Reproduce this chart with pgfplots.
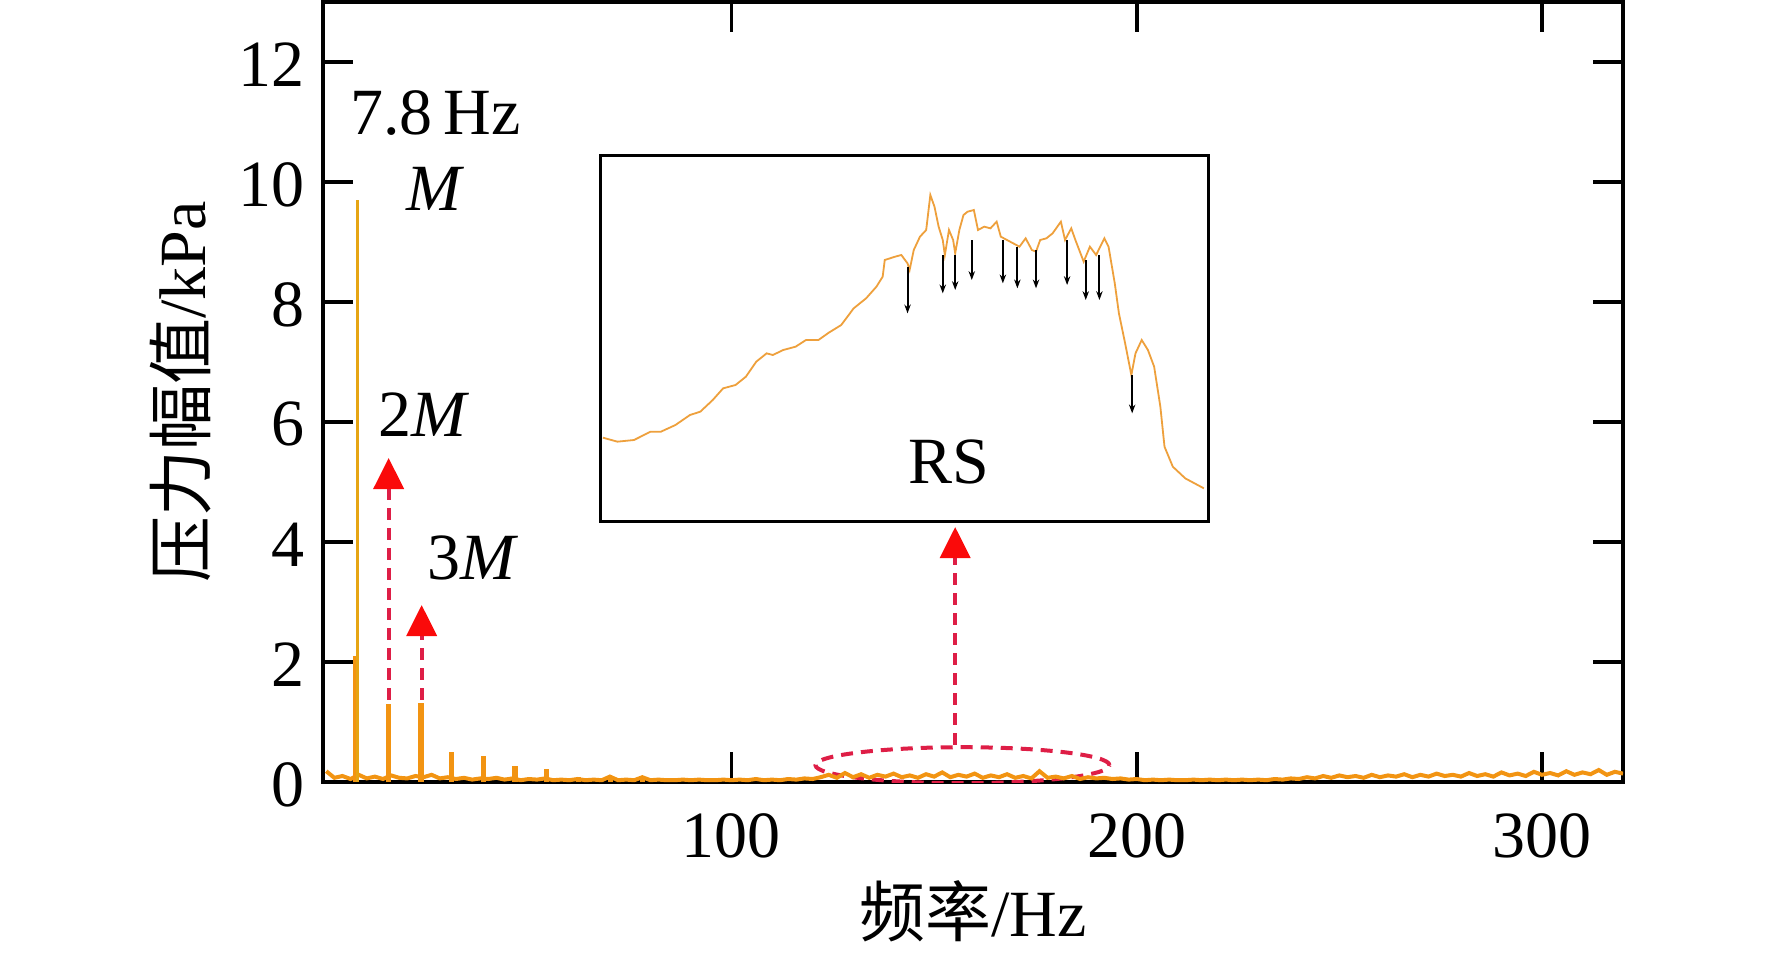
\documentclass[border=0pt]{standalone}
\usepackage{pgfplots}
\pgfplotsset{compat=1.18}
\usetikzlibrary{arrows.meta}
\usepackage{fontspec}
\setmainfont{Liberation Serif}
\newfontfamily\cjk{Noto Sans CJK SC}
\definecolor{spec}{RGB}{242,148,18}
\definecolor{specy}{RGB}{230,165,20}
\definecolor{dashred}{RGB}{222,30,70}
\definecolor{tri}{RGB}{250,10,10}
\definecolor{insetc}{RGB}{238,160,60}
\pgfplotstableread{
x y
0 0.18
2 0.07
4 0.10
6 0.05
8 0.12
10 0.06
12 0.09
14 0.05
16 0.11
18 0.07
20 0.06
22 0.10
24 0.08
26 0.12
28 0.06
30 0.08
32 0.05
34 0.07
36 0.04
38 0.06
40 0.05
42 0.07
44 0.04
46 0.06
48 0.03
50 0.05
52 0.04
54 0.06
56 0.03
58 0.04
60 0.03
62 0.05
64 0.03
66 0.04
68 0.03
70 0.09
72 0.03
74 0.04
76 0.03
78 0.08
80 0.03
82 0.04
84 0.03
86 0.03
88 0.04
90 0.03
92 0.04
94 0.03
96 0.03
98 0.04
100 0.03
102 0.04
104 0.03
106 0.05
108 0.03
110 0.04
112 0.03
114 0.05
116 0.04
118 0.06
120 0.05
122 0.08
124 0.12
126 0.07
128 0.15
130 0.08
132 0.13
134 0.07
136 0.12
138 0.09
140 0.14
142 0.08
144 0.11
146 0.07
148 0.13
150 0.09
152 0.16
154 0.08
156 0.12
158 0.09
160 0.14
162 0.07
164 0.11
166 0.08
168 0.13
170 0.07
172 0.10
174 0.06
176 0.18
178 0.07
180 0.09
182 0.06
184 0.10
186 0.05
188 0.08
190 0.06
192 0.07
194 0.05
196 0.06
198 0.04
200 0.05
202 0.03
204 0.04
206 0.03
208 0.04
210 0.03
212 0.03
214 0.04
216 0.03
218 0.04
220 0.03
222 0.04
224 0.03
226 0.04
228 0.03
230 0.04
232 0.03
234 0.05
236 0.04
238 0.06
240 0.05
242 0.08
244 0.06
246 0.10
248 0.07
250 0.11
252 0.08
254 0.10
256 0.07
258 0.12
260 0.08
262 0.11
264 0.09
266 0.13
268 0.08
270 0.12
272 0.09
274 0.14
276 0.10
278 0.12
280 0.09
282 0.15
284 0.10
286 0.13
288 0.09
290 0.16
292 0.11
294 0.14
296 0.10
298 0.17
300 0.12
302 0.15
304 0.11
306 0.18
308 0.12
310 0.16
312 0.13
314 0.20
316 0.12
318 0.17
320 0.14
}\noise
\pgfplotstableread{
x y
15.4 1.30
23.4 1.32
31.0 0.50
38.8 0.43
46.6 0.26
54.4 0.22
62.2 0.08
70.2 0.10
78.0 0.09
}\harm
\pgfplotstableread{
x y
55 893
90 905
130 900
170 875
195 875
230 855
265 825
290 815
320 780
345 745
375 735
400 710
425 665
450 640
465 645
490 630
520 620
545 600
575 600
600 578
630 555
660 505
690 475
715 440
730 410
735 360
760 350
775 345
790 370
795 390
805 330
820 290
835 270
845 165
855 200
865 260
875 300
880 345
890 270
900 300
905 340
915 270
925 225
935 215
950 210
960 270
975 260
990 265
1005 245
1015 290
1030 300
1045 310
1060 320
1075 295
1090 330
1100 335
1110 300
1125 295
1140 280
1160 245
1170 300
1185 265
1195 300
1215 365
1230 320
1245 345
1265 295
1275 320
1290 430
1300 520
1315 610
1330 705
1340 640
1355 600
1370 630
1385 680
1400 800
1410 920
1430 980
1460 1015
1505 1045
}\insetdata
\pgfplotstableread{
x y v
790 380 140
875 345 115
905 345 105
945 300 120
1020 300 130
1055 320 125
1100 330 115
1175 300 135
1220 360 120
1253 345 135
1332 705 115
}\insetarrows
\begin{document}
\begin{tikzpicture}[font=\fontsize{16.5}{19}\selectfont]
\begin{axis}[
  at={(0,0)}, anchor=south west,
  width=325pt, height=195pt, scale only axis,
  xmin=-0.8, xmax=320, ymin=0, ymax=13,
  xtick={100,200,300}, ytick={0,2,...,12},
  tick align=inside, tick pos=both,
  major tick length=7.5pt,
  every tick/.style={black, line width=0.9pt},
  axis line style={line width=1pt},
  /pgf/number format/assume math mode=true,
  tick label style={font=\fontsize{16.5}{19}\selectfont},
  xticklabel style={yshift=-4.3pt},
  yticklabel style={xshift=-1pt, yshift=-0.6pt},
  xlabel={{\cjk 频率}/Hz}, ylabel={{\cjk 压力幅值}/kPa},
  every axis x label/.style={at={(axis description cs:0.5,-0.1654)}, anchor=center},
  every axis y label/.style={at={(axis description cs:-0.1092,0.5)}, anchor=center, rotate=90},
]
\draw[dashred, line width=1pt, dash pattern=on 3pt off 2pt] (axis cs:157,0.28) ellipse [x radius=36.75pt, y radius=4.5pt];
\addplot[spec, line width=1pt, mark=none] table {\noise};
\addplot[spec, ycomb, line width=1.3pt, mark=none] table {\harm};
\addplot[spec, ycomb, line width=1.6pt, mark=none] coordinates {(7.4,2.1)};
\addplot[specy, ycomb, line width=0.7pt, mark=none] coordinates {(7.8,9.7)};
\draw[dashred, line width=1pt, dash pattern=on 3pt off 2pt, -{Triangle[width=7.5pt,length=7.75pt,color=tri]}] (axis cs:15.4,1.37) -- (axis cs:15.4,5.4);
\draw[dashred, line width=1pt, dash pattern=on 3pt off 2pt, -{Triangle[width=7.5pt,length=7.75pt,color=tri]}] (axis cs:23.55,1.37) -- (axis cs:23.55,2.95);
\draw[dashred, line width=1pt, dash pattern=on 3pt off 2pt, -{Triangle[width=7.5pt,length=7.75pt,color=tri]}] (axis cs:155.2,0.62) -- (axis cs:155.2,4.25);
\node at (axis cs:27,11.15) {7.8\,Hz};
\node at (axis cs:27,9.88) {\textit{M}};
\node at (axis cs:24.1,6.12) {2\textit{M}};
\node at (axis cs:36.1,3.73) {3\textit{M}};
\end{axis}
\begin{axis}[
  at={(69.25pt,65.25pt)}, anchor=south west,
  width=152pt, height=91.5pt, scale only axis,
  xmin=48, xmax=1515, ymin=45, ymax=1143, y dir=reverse,
  xtick=\empty, ytick=\empty,
  axis line style={line width=0.75pt},
  axis background/.style={fill=white},
]
\addplot[insetc, line width=0.45pt, mark=none] table {\insetdata};
\addplot[black, line width=0.5pt, mark=none, -{Stealth[length=2.2pt,width=1.6pt]},
  quiver={u=0, v=\thisrow{v}}] table[x=x, y=y] {\insetarrows};
\node[font=\fontsize{16.5}{19}\selectfont] at (axis cs:890,965) {RS};
\end{axis}
\pgfresetboundingbox
\path (-80.75pt,-43pt) rectangle (362.25pt,195.5pt);
\end{tikzpicture}
\end{document}
